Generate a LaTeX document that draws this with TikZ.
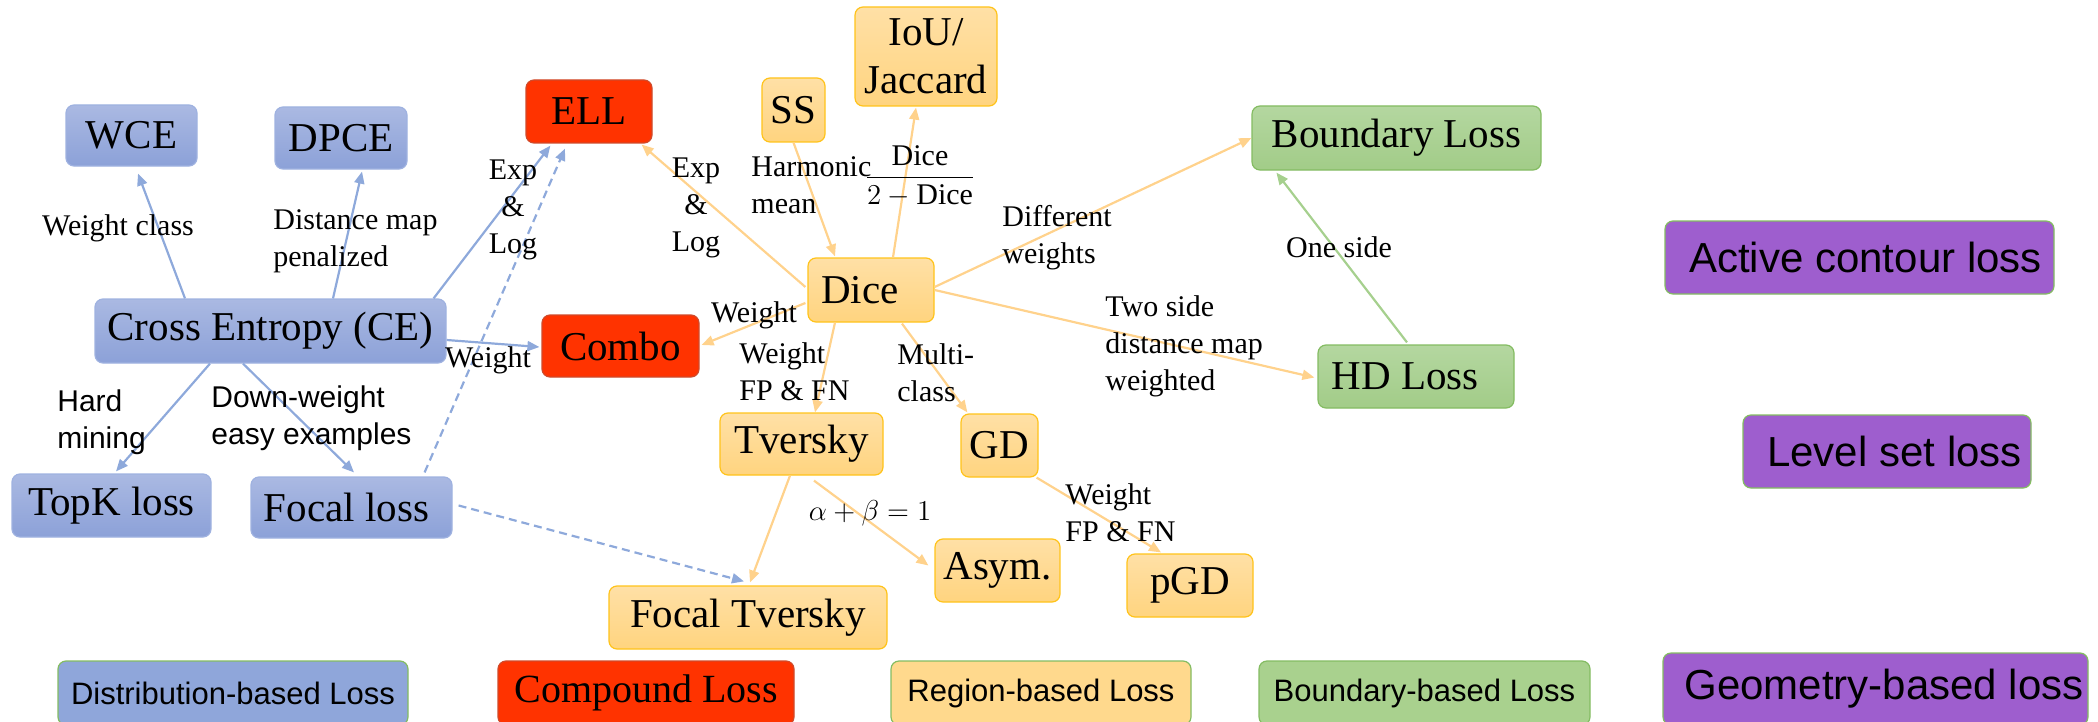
\documentclass[tikz,border=0pt]{standalone}
\usepackage{amsmath}
\usepackage{fontspec}
\setmainfont{Liberation Serif}
\setsansfont{Liberation Sans}
\usetikzlibrary{arrows.meta,calc}

\definecolor{bluetop}{HTML}{AAB9E2}
\definecolor{bluebot}{HTML}{8CA1D8}
\definecolor{blueedge}{HTML}{9FB2E0}
\definecolor{bluearr}{HTML}{8EA9DB}
\definecolor{blueflat}{HTML}{8FA6DA}
\definecolor{redfill}{HTML}{FF3300}
\definecolor{rededge}{HTML}{D04A2A}
\definecolor{orangetop}{HTML}{FFE0A6}
\definecolor{orangebot}{HTML}{FFD47F}
\definecolor{orangeedge}{HTML}{FFC31A}
\definecolor{orangearr}{HTML}{FFD28C}
\definecolor{orangeflat}{HTML}{FFD98D}
\definecolor{greentop}{HTML}{B4D7A0}
\definecolor{greenbot}{HTML}{A2CC88}
\definecolor{greenedge}{HTML}{84BC62}
\definecolor{greenarr}{HTML}{A6D08E}
\definecolor{greenflat}{HTML}{A9D18E}
\definecolor{purplefill}{HTML}{9E5ECE}

\begin{document}
\begin{tikzpicture}[x=0.5pt,y=-0.5pt,
  base/.style={rounded corners=4pt, inner sep=0pt, align=center,
    font=\fontsize{20.5}{24}\selectfont, line width=0.6pt},
  sz/.style 2 args={minimum width=#1*0.5pt, minimum height=#2*0.5pt},
  bluebox/.style={base, draw=blueedge, top color=bluetop, bottom color=bluebot},
  redbox/.style={base, draw=rededge, fill=redfill},
  orangebox/.style={base, draw=orangeedge, top color=orangetop, bottom color=orangebot},
  greenbox/.style={base, draw=greenedge, top color=greentop, bottom color=greenbot},
  purplebox/.style={base, draw=greenedge, fill=purplefill,
    font=\sffamily\fontsize{21}{25}\selectfont},
  legend/.style={base, draw=greenedge, font=\sffamily\fontsize{15.5}{18}\selectfont},
  tip/.style={-{Triangle[length=6pt,width=5pt]}},
  bluearrow/.style={draw=bluearr, line width=1.1pt, tip},
  bluedash/.style={bluearrow, dash pattern=on 4pt off 2.5pt},
  orangearrow/.style={draw=orangearr, line width=1.1pt, tip},
  greenarrow/.style={draw=greenarr, line width=1.1pt, tip},
  lbl/.style={inner sep=0pt, align=left, font=\fontsize{15}{18.5}\selectfont},
  clbl/.style={lbl, align=center},
  slbl/.style={inner sep=0pt, align=left, font=\sffamily\fontsize{15}{18.5}\selectfont}
]
\useasboundingbox (0,0) rectangle (2098,722);

% distribution-based losses
\node[bluebox, sz={131}{61}] (wce) at (131.5,135.5) {WCE};
\node[bluebox, sz={132}{62}] (dpce) at (341,138) {DPCE};
\node[bluebox, sz={351}{64}] (ce) at (270.5,331) {Cross Entropy (CE)};
\node[bluebox, sz={199}{63}] (topk) at (111.5,505.5) {TopK loss};
\node[bluebox, sz={201}{61}] (focal) at (351.5,507.5) {Focal loss\hspace*{5pt}};

% compound losses
\node[redbox, sz={126}{63}] (ell) at (589,111.5) {ELL};
\node[redbox, sz={157}{62}] (combo) at (620.5,346) {Combo};

% region-based losses
\node[orangebox, sz={63}{64}] (ss) at (793.5,110) {SS};
\node[orangebox, sz={142}{99}] (iou) at (926,56.5) {IoU/\\Jaccard};
\node[orangebox, sz={126}{64}] (dice) at (871,290) {Dice\hspace*{11pt}};
\node[orangebox, sz={163}{62}] (tv) at (801.5,444) {Tversky};
\node[orangebox, sz={77}{63}] (gd) at (999.5,445.5) {GD};
\node[orangebox, sz={125}{63}] (asym) at (997.5,570.5) {Asym.};
\node[orangebox, sz={126}{63}] (pgd) at (1190,585.5) {pGD};
\node[orangebox, sz={278}{63}] (ft) at (748,617.5) {Focal Tversky};

% boundary-based losses
\node[greenbox, sz={289}{64}] (bl) at (1396.5,138) {Boundary Loss};
\node[greenbox, sz={196}{63}] (hd) at (1416,376.5) {HD Loss\hspace*{11pt}};

% geometry-based losses
\node[purplebox, sz={389}{73}] (acl) at (1859.5,257.5) {\hspace*{6pt}Active contour loss};
\node[purplebox, sz={288}{73}] (lsl) at (1887,451.5) {\hspace*{7.5pt}Level set loss};

% legend row
\node[legend, fill=blueflat, sz={350}{64}] (dist) at (233,693) {Distribution-based Loss};
\node[redbox, sz={296}{64}, font=\fontsize{20}{24}\selectfont] (comp) at (646,693) {Compound Loss};
\node[legend, fill=orangeflat, sz={300}{64}] (reg) at (1041,693) {Region-based Loss};
\node[legend, fill=greenflat, sz={331}{64}] (bnd) at (1424.5,693) {Boundary-based Loss};
\node[purplebox, sz={425}{72}] (geo) at (1875.5,689) {\hspace*{8.5pt}Geometry-based loss};

% connectors from cross entropy
\draw[bluearrow] ($(ce.north)+(-85.5,0)$) -- ($(wce.south)+(6.5,7)$);
\draw[bluearrow] ($(ce.north)+(62.5,0)$) -- ($(dpce.south)+(21,2)$);
\draw[bluearrow] ($(ce.north east)+(-13,0)$) -- ($(ell.south west)+(25,2)$);
\draw[bluearrow] ($(ce.east)+(0,9)$) -- ($(combo.west)+(-2,1)$);
\draw[bluearrow] ($(ce.south)+(-60.5,0)$) -- ($(topk.north)+(4.5,-2)$);
\draw[bluearrow] ($(ce.south)+(-27.5,0)$) -- ($(focal.north)+(2.5,-4)$);
\draw[bluedash] ($(focal.north east)+(-28,-4)$) -- ($(ell.south)+(-24,5)$);
\draw[bluedash] ($(focal.east)+(6,-2)$) -- ($(ft.north)+(-4,-4)$);

% connectors from dice
\draw[orangearrow] ($(dice.west)+(-2,-3)$) -- ($(ell.south east)+(-11,1)$);
\draw[orangearrow] (ss.south) -- ($(dice.north)+(-36,-1)$);
\draw[orangearrow] ($(dice.north)+(22,0)$) -- ($(iou.south)+(-10,1)$);
\draw[orangearrow] ($(dice.west)+(-2,13)$) -- ($(combo.east)+(2,-1)$);
\draw[orangearrow] ($(dice.east)+(0,-3)$) -- (bl.west);
\draw[orangearrow] (dice.east) -- ($(hd.west)+(-3,1)$);
\draw[orangearrow] ($(dice.south)+(-36,0)$) -- ($(tv.north)+(13.5,0)$);
\draw[orangearrow] ($(dice.south)+(31,1)$) -- ($(gd.north west)+(7,-1)$);
\draw[orangearrow] ($(tv.south)+(-11.5,0)$) -- ($(ft.north)+(2,-3)$);
\draw[orangearrow] ($(tv.south)+(12.5,5)$) -- ($(asym.west)+(-6,-5)$);
\draw[orangearrow] ($(gd.south east)+(-2,0)$) -- ($(pgd.north)+(-29,-1)$);
\draw[greenarrow] ($(hd.north)+(-9,-2)$) -- ($(bl.south west)+(25,2)$);

% connector labels
\node[clbl] (l1) at (118,228) {Weight class};
\node[lbl, anchor=west] (l2) at (273,241) {Distance map\\penalized};
\node[clbl] (l3) at (513,210) {Exp\\\&\\Log};
\node[clbl] (l4) at (488,360) {Weight};
\node[slbl, anchor=west] (l5) at (57,422) {Hard\\mining};
\node[slbl, anchor=west] (l6) at (211,418) {Down-weight\\easy examples};
\node[clbl] (l7) at (696,208) {Exp\\\&\\Log};
\node[lbl, anchor=west] (l8) at (751,185) {Harmonic\\mean};
\node[clbl] (l9) at (920,176) {$\dfrac{\mbox{Dice}}{2-\mbox{Dice}}$};
\node[lbl, anchor=west] (l10) at (1002,238) {Different\\weights};
\node[clbl] (l11) at (1339,247) {One side};
\node[lbl, anchor=west] (l12) at (1105,346) {Two side\\distance map\\weighted};
\node[clbl] (l13) at (754,315) {Weight};
\node[lbl, anchor=west] (l14) at (739,372) {Weight\\FP \& FN};
\node[lbl, anchor=west] (l15) at (897,373) {Multi-\\class};
\node[clbl] (l16) at (870,513) {$\alpha+\beta=1$};
\node[lbl, anchor=west] (l17) at (1065,513) {Weight\\FP \& FN};
\end{tikzpicture}
\end{document}
